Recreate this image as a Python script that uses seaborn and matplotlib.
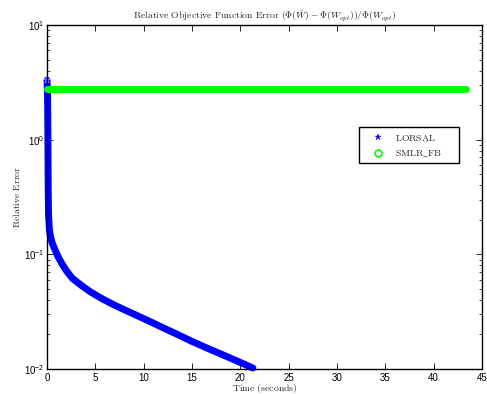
import matplotlib
matplotlib.use("Agg")
import matplotlib.pyplot as plt
import seaborn as sns
import pandas as pd
from matplotlib.lines import Line2D
from matplotlib.patches import Rectangle
from matplotlib.font_manager import FontProperties
from matplotlib.ticker import LogLocator, FixedLocator

# ---- data ----
lorsal_time = [0.0, 0.05, 0.08, 0.10, 0.12, 0.16, 0.25, 0.35, 0.5, 0.7, 0.86, 1.1, 1.5,
               2.0, 2.6, 3.5, 4.5, 5.7, 7.0, 8.3, 9.6, 10.8, 12.0, 13.5, 15.0, 16.5,
               18.0, 19.6, 21.3]
lorsal_err = [3.3, 2.6, 1.5, 0.8, 0.4, 0.22, 0.163, 0.145, 0.128, 0.116, 0.108, 0.097,
              0.084, 0.072, 0.062, 0.054, 0.047, 0.041, 0.036, 0.032, 0.0285, 0.0256,
              0.0229, 0.0200, 0.0174, 0.0153, 0.0135, 0.0118, 0.0102]
smlr_time = [0.0, 43.3]
smlr_err = [2.75, 2.75]
series_names = ["LORSAL", "SMLR_FB"]
x_ticks = [0, 5, 10, 15, 20, 25, 30, 35, 40, 45]
title_text = "Relative Objective Function Error"
title_math = r"$(\Phi(\hat{W})-\Phi(W_{opt}))/\Phi(W_{opt})$"
x_label = "Time (seconds)"
y_label = "Relative Error"


def cm(s):
    """Render plain text in Computer Modern via mathtext."""
    s = s.replace("_", r"\_").replace(" ", r"\ ")
    return r"$\mathrm{" + s + "}$"


sns.set_style("ticks")
plt.rcParams["font.family"] = ["Liberation Sans", "DejaVu Sans"]
plt.rcParams["xtick.direction"] = "in"
plt.rcParams["ytick.direction"] = "in"

W, H = 487, 394
fig = plt.figure(figsize=(W / 100, H / 100), dpi=100)
ax = fig.add_axes([47 / W, 1 - 369 / H, (482 - 47) / W, (369 - 25) / H])

df_l = pd.DataFrame({"t": lorsal_time, "e": lorsal_err})
df_s = pd.DataFrame({"t": smlr_time, "e": smlr_err})

blue = (0, 0, 1)
green = (0, 1, 0)

sns.lineplot(data=df_l, x="t", y="e", ax=ax, color=blue, linewidth=5.0,
             solid_capstyle="round", solid_joinstyle="round", clip_on=False, zorder=2)
sns.lineplot(data=df_l.iloc[:1], x="t", y="e", ax=ax, color=blue, linestyle="none",
             marker="*", markersize=5, markeredgewidth=0.3, clip_on=False, zorder=2)
sns.lineplot(data=df_s, x="t", y="e", ax=ax, color=green, linewidth=5.0,
             solid_capstyle="round", clip_on=False, zorder=3)

ax.set_yscale("log")
ax.set_xlim(0, 45)
ax.set_ylim(1e-2, 1e1)
ax.xaxis.set_major_locator(FixedLocator(x_ticks))
ax.yaxis.set_major_locator(LogLocator(base=10))
ax.yaxis.set_minor_locator(LogLocator(base=10, subs=range(2, 10)))

for s in ax.spines.values():
    s.set_linewidth(1.0)
    s.set_color("black")
ax.tick_params(which="both", top=True, right=True, labelsize=7, colors="black")
ax.tick_params(which="major", length=4, width=0.6)
ax.tick_params(which="minor", length=2.2, width=0.5)
ax.tick_params(axis="x", pad=3)
ax.tick_params(axis="y", pad=2)

cmfont = FontProperties(family="DejaVu Serif", size=7, math_fontfamily="cm")
ax.set_xlabel(cm(x_label), fontproperties=cmfont, labelpad=-1)
ax.set_ylabel(cm(y_label), fontproperties=cmfont, labelpad=1)
ax.set_title(cm(title_text) + " " + title_math, fontproperties=cmfont, pad=5)

# legend box (MATLAB style, fixed size)
ax.add_patch(Rectangle((359 / W, 1 - 163 / H), 100 / W, 36 / H, transform=fig.transFigure,
                       facecolor="white", edgecolor="black", linewidth=1.0,
                       clip_on=False, zorder=4))
handles = [
    Line2D([], [], color=blue, marker="*", linestyle="none", markersize=5,
           markeredgewidth=0.3),
    Line2D([], [], color=green, marker="o", linestyle="none", markersize=5,
           markerfacecolor="none", markeredgewidth=1.2),
]
leg = ax.legend(handles, [cm(n) for n in series_names], loc="upper left",
                bbox_to_anchor=(366 / W, 1 - 127 / H), bbox_transform=fig.transFigure,
                prop=cmfont, frameon=False,
                borderpad=0.6, handlelength=1.2, handletextpad=1.2, labelspacing=0.55,
                borderaxespad=0)
leg.set_zorder(5)

fig.savefig("out.png", dpi=100)
